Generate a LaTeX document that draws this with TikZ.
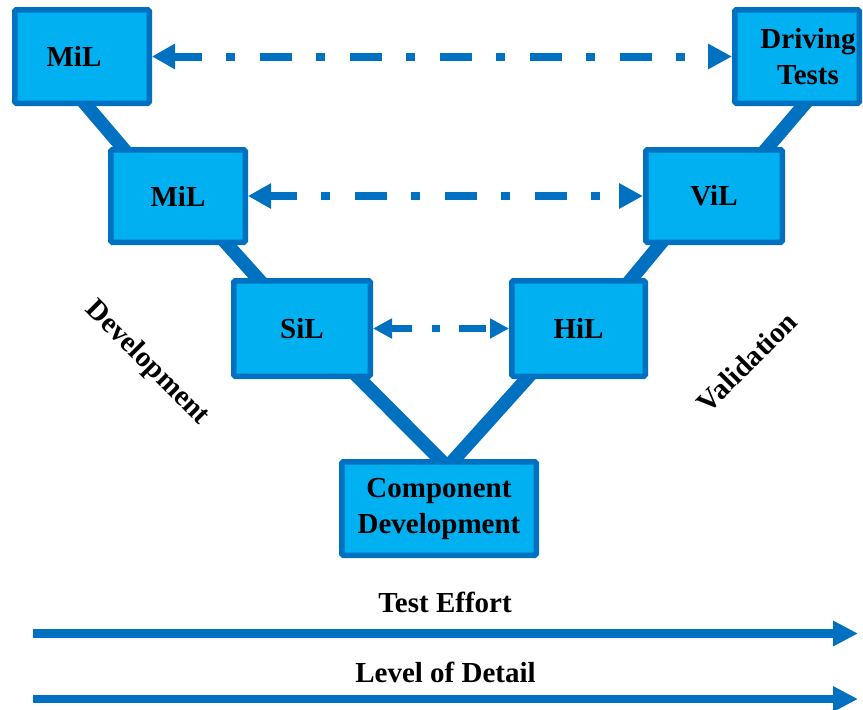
\documentclass[tikz,border=0pt]{standalone}
\usepackage{fontspec}
\setmainfont{Liberation Serif}
\usetikzlibrary{arrows.meta,backgrounds,calc}
\definecolor{vfill}{HTML}{00B0F0}
\definecolor{vline}{HTML}{0070C0}
\begin{document}
\begin{tikzpicture}[x=1pt,y=-1pt,
  vbox/.style={draw=vline, fill=vfill, line width=5.5pt, rounded corners=1.5pt,
    inner sep=0pt, align=center, font=\bfseries\fontsize{29}{36}\selectfont},
  vlbl/.style={font=\bfseries\fontsize{29}{36}\selectfont, inner sep=0pt},
  vleg/.style={draw=vline, line width=13.5pt},
  bigdash/.style={draw=vline, line width=8pt,
    {Triangle[length=23pt,width=24pt]}-{Triangle[length=24pt,width=24pt]},
    dash pattern=on 32pt off 24pt on 9pt off 25pt},
  smalldash/.style={draw=vline, line width=7pt,
    {Triangle[length=19pt,width=19pt]}-{Triangle[length=19pt,width=19pt]},
    dash pattern=on 27pt off 20pt on 8pt off 19pt, dash phase=6pt},
  axisarrow/.style={draw=vline, -{Triangle[length=25pt,width=24pt]}}
]
\useasboundingbox (0,0) rectangle (863,710);

% boxes
\node[vbox, minimum width=134.5pt, minimum height=93.5pt] (m1) at (82,56.5) {\hspace*{-16pt}MiL};
\node[vbox, minimum width=124.5pt, minimum height=93.5pt] (dt) at (797,56.5) {\hspace*{22pt}Driving\\\hspace*{22pt}Tests};
\node[vbox, minimum width=134.5pt, minimum height=92.5pt] (m2) at (178,196) {MiL};
\node[vbox, minimum width=136.5pt, minimum height=92.5pt] (vil) at (714,196) {ViL};
\node[vbox, minimum width=136.5pt, minimum height=95.5pt] (sil) at (302,328.5) {SiL};
\node[vbox, minimum width=133.5pt, minimum height=95.5pt] (hil) at (578.5,328.5) {HiL};
\node[vbox, minimum width=194.5pt, minimum height=93.5pt] (comp) at (439,508.5) {Component\\Development};

% V legs behind the boxes
\begin{scope}[on background layer]
  \draw[vleg] ($(m1.south)+(-3.5,-10)$) -- ($(m2.north)+(-47.5,10)$);
  \draw[vleg] ($(m2.south)+(40.8,-10)$) -- ($(sil.north)+(-35.6,10)$);
  \draw[vleg] ($(sil.south)+(48,-10)$) -- ($(comp.north)+(9.5,9)$);
  \draw[vleg] ($(hil.south)+(-43,-10)$) -- ($(comp.north)+(7.5,9)$);
  \draw[vleg] ($(vil.south)+(-46.2,-10)$) -- ($(hil.north)+(45.4,10)$);
  \draw[vleg] ($(dt.south)+(14.5,-10)$) -- ($(vil.north)+(45.5,10)$);
\end{scope}

% dash-dot correspondences
\draw[bigdash, dash phase=4pt] (m1.east) -- (dt.west);
\draw[bigdash, dash phase=5pt] (m2.east) -- (vil.west);
\draw[smalldash] (sil.east) -- (hil.west);

% side labels
\node[vlbl, rotate=-45] (devlbl) at (147,363) {Development};
\node[vlbl, rotate=45] (vallbl) at (747,362) {Validation};

% bottom axes
\node[vlbl, anchor=base] (telbl) at (445,612) {Test Effort};
\coordinate (te0) at (33,633.5);
\coordinate (te1) at (858,633.5);
\draw[axisarrow, line width=9pt] (te0) -- (te1);
\node[vlbl, anchor=base] (ldlbl) at (445.5,682) {Level of Detail};
\coordinate (ld0) at (33,699);
\coordinate (ld1) at (858,699);
\draw[axisarrow, line width=8.5pt] (ld0) -- (ld1);
\end{tikzpicture}
\end{document}
